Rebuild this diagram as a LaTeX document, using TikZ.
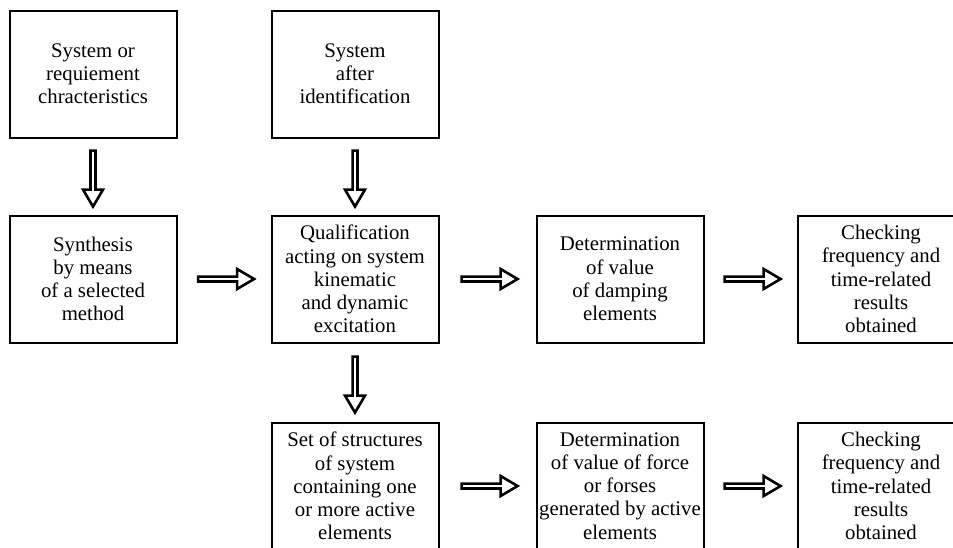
\documentclass[tikz,border=0pt]{standalone}
\usepackage{fontspec}
\setmainfont{Liberation Serif}
\usepackage{tikz}
\usetikzlibrary{shapes.arrows, positioning, calc}

\begin{document}
\begin{tikzpicture}[x=0.5pt, y=-0.5pt,
    box/.style={draw, line width=1pt, minimum width=83.5pt, minimum height=63.5pt,
        inner sep=0pt, align=center, font=\fontsize{10.4}{11.6}\selectfont},
    fatarrow/.style={draw, line width=1.3pt, single arrow, inner sep=0pt,
        minimum height=28pt, minimum width=10pt, single arrow head extend=2pt,
        single arrow tip angle=61}]
\clip (0,0) rectangle (953,547);
% Top row
\node[box] (req) at (93,74) {System or\\requiement\\chracteristics};
\node[box] (ident) at (355,74) {System\\after\\identification};
% Middle row
\node[box] (synth) at (93,279) {Synthesis\\by means\\of a selected\\method};
\node[box] (qual) at (355,279) {Qualification\\acting on system\\kinematic\\and dynamic\\excitation};
\node[box] (damp) at (620,279) {Determination\\of value\\of damping\\elements};
\node[box] (check1) at (881,279) {Checking\\frequency and\\time-related\\results\\obtained};
% Bottom row
\node[box] (struct) at (355,486) {Set of structures\\of system\\containing one\\or more active\\elements};
\node[box] (force) at (620,486) {Determination\\of value of force\\or forses\\generated by active\\elements};
\node[box] (check2) at (881,486) {Checking\\frequency and\\time-related\\results\\obtained};

% Block arrows
\node[fatarrow, rotate=-90] (a1) at ($(req.south)!0.5!(synth.north)$) {};
\node[fatarrow, rotate=-90] (a2) at ($(ident.south)!0.5!(qual.north)$) {};
\node[fatarrow, rotate=-90] (a3) at ($(qual.south)!0.5!(struct.north)$) {};
\node[fatarrow] (a4) at ($(synth.east)!0.5!(qual.west)$) {};
\node[fatarrow] (a5) at ($(qual.east)!0.5!(damp.west)$) {};
\node[fatarrow] (a6) at ($(damp.east)!0.5!(check1.west)$) {};
\node[fatarrow] (a7) at ($(struct.east)!0.5!(force.west)$) {};
\node[fatarrow] (a8) at ($(force.east)!0.5!(check2.west)$) {};
\end{tikzpicture}
\end{document}
